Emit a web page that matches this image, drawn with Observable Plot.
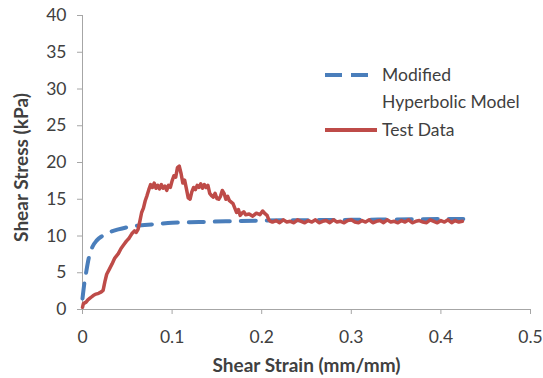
<!DOCTYPE html>
<html>
<head>
<meta charset="utf-8">
<script src="https://cdn.jsdelivr.net/npm/d3@7"></script>
<script src="https://cdn.jsdelivr.net/npm/@observablehq/plot@0.6"></script>
<style>
  html, body { margin: 0; padding: 0; background: #fff; }
  #chart { position: relative; width: 543px; height: 378px; font-family: Lato, "Open Sans", sans-serif; }
  #legend { position: absolute; left: 0; top: 0; }
</style>
</head>
<body>
<div id="chart"></div>
<script>
const xTicks = [0, 0.1, 0.2, 0.3, 0.4, 0.5];
const yTicks = [0, 5, 10, 15, 20, 25, 30, 35, 40];
const xTitle = "Shear Strain (mm/mm)";
const yTitle = "Shear Stress (kPa)";
const seriesNames = ["Modified", "Hyperbolic Model", "Test Data"];

const modelStrain = [0, 0.002, 0.004, 0.007, 0.011, 0.016, 0.022, 0.030, 0.040, 0.050, 0.060, 0.080, 0.100, 0.130, 0.160, 0.200, 0.250, 0.300, 0.350, 0.400, 0.425];
const modelStress = [1.5, 3.5, 5.0, 7.0, 8.5, 9.4, 10.0, 10.5, 10.9, 11.2, 11.4, 11.6, 11.8, 11.9, 12.0, 12.1, 12.15, 12.2, 12.25, 12.3, 12.3];

const testStrain = [
  0, 0.001, 0.004, 0.006, 0.008, 0.010, 0.012, 0.015, 0.018, 0.021,
  0.023, 0.025, 0.027, 0.030, 0.033, 0.036, 0.040, 0.043, 0.046, 0.049,
  0.052, 0.055, 0.058, 0.060, 0.062, 0.064, 0.066, 0.068, 0.070, 0.072,
  0.074, 0.076, 0.078, 0.080, 0.082, 0.084, 0.086, 0.088, 0.090, 0.092,
  0.094, 0.096, 0.098, 0.100, 0.102, 0.104, 0.106, 0.108, 0.110, 0.112,
  0.114, 0.116, 0.118, 0.120, 0.122, 0.124, 0.126, 0.128, 0.130, 0.132,
  0.134, 0.136, 0.138, 0.140, 0.142, 0.144, 0.146, 0.148, 0.150, 0.152,
  0.154, 0.156, 0.158, 0.160, 0.162, 0.164, 0.166, 0.168, 0.170, 0.172,
  0.174, 0.176, 0.178, 0.180, 0.182, 0.186, 0.190, 0.194, 0.198, 0.201,
  0.204, 0.206, 0.208, 0.210,
  0.212, 0.216, 0.220, 0.224, 0.228, 0.232, 0.236, 0.240, 0.244, 0.248,
  0.252, 0.256, 0.260, 0.264, 0.268, 0.272, 0.276, 0.280, 0.284, 0.288,
  0.292, 0.296, 0.300, 0.304, 0.308, 0.312, 0.316, 0.320, 0.324, 0.328,
  0.332, 0.336, 0.340, 0.344, 0.348, 0.352, 0.356, 0.360, 0.364, 0.368,
  0.372, 0.376, 0.380, 0.384, 0.388, 0.392, 0.396, 0.400, 0.404, 0.408,
  0.412, 0.416, 0.420, 0.424
];
const testStress = [
  0.3, 0.8, 1.0, 1.3, 1.5, 1.7, 1.9, 2.1, 2.2, 2.4,
  2.6, 3.8, 4.8, 5.5, 6.2, 7.0, 7.6, 8.3, 8.8, 9.3,
  9.7, 10.3, 10.7, 10.5, 10.9, 12.0, 13.2, 13.8, 14.8, 15.5,
  16.3, 17.0, 16.6, 17.2, 16.5, 16.9, 16.4, 17.0, 16.5, 16.8,
  16.2, 16.9, 16.6, 17.5, 18.2, 18.0, 19.3, 19.5, 18.5, 17.2,
  17.6, 16.4, 15.2, 15.0, 16.0, 16.6, 16.3, 16.9, 16.6, 17.1,
  16.5, 17.0, 16.6, 16.9, 15.8, 15.5, 15.3, 15.8, 15.1, 15.0,
  15.4, 16.2, 15.8, 15.0, 15.4, 14.8, 14.6, 14.4, 13.8, 13.2,
  13.6, 12.8, 13.1, 13.3, 12.9, 13.0, 12.7, 13.1, 12.9, 13.4,
  13.0, 12.8, 12.2, 12.0,
  11.9, 12.1, 11.8, 12.2, 11.9, 12.0, 11.8, 12.2, 12.0, 11.8,
  12.1, 11.9, 12.2, 11.8, 12.0, 12.1, 11.8, 12.2, 11.9, 12.0,
  11.8, 12.1, 12.2, 11.9, 11.8, 12.1, 11.9, 12.2, 11.8, 12.0,
  12.1, 11.8, 12.2, 11.9, 12.0, 11.8, 12.1, 11.9, 12.2, 11.8,
  12.0, 12.1, 11.9, 11.8, 12.2, 12.0, 11.8, 12.1, 11.9, 12.2,
  11.8, 12.1, 11.9, 12.0
];

const blue = "#4a7ebb";
const red = "#be4b48";
const axisGray = "#a6a6a6";
const textColor = "#404040";

const model = modelStrain.map((x, i) => ({x, y: modelStress[i]}));
const test = testStrain.map((x, i) => ({x, y: testStress[i]}));

const chart = Plot.plot({
  width: 543,
  height: 378,
  marginLeft: 82,
  marginRight: 13,
  marginTop: 15,
  marginBottom: 69,
  style: {fontFamily: "Lato, 'Open Sans', sans-serif", fontSize: "17.5px", color: textColor, background: "#fff"},
  x: {domain: [0, 0.5]},
  y: {domain: [0, 40]},
  marks: [
    Plot.axisY({ticks: yTicks, tickSize: 5, tickPadding: 11, stroke: axisGray, fill: textColor, fontSize: 17.5, label: null}),
    Plot.axisX({ticks: xTicks, tickSize: 5, tickPadding: 16, stroke: axisGray, fill: textColor, fontSize: 17.5, label: null, tickFormat: d => String(d)}),
    Plot.ruleX([0], {stroke: axisGray, strokeWidth: 1}),
    Plot.ruleY([0], {stroke: axisGray, strokeWidth: 1}),
    Plot.line(model, {x: "x", y: "y", stroke: blue, strokeWidth: 4, strokeDasharray: "15,11", curve: "monotone-x"}),
    Plot.line(test, {x: "x", y: "y", stroke: red, strokeWidth: 3.5, strokeLinejoin: "round"}),
    Plot.text([xTitle], {frameAnchor: "bottom", dy: 56, textAnchor: "middle", lineAnchor: "middle", fontWeight: "bold", fontSize: 19, fill: textColor}),
    Plot.text([yTitle], {frameAnchor: "left", dx: -61, dy: 5, rotate: -90, textAnchor: "middle", lineAnchor: "middle", fontWeight: "bold", fontSize: 19, fill: textColor})
  ]
});
document.getElementById("chart").appendChild(chart);

// legend overlay
const leg = d3.select("#chart").append("svg")
  .attr("id", "legend").attr("width", 543).attr("height", 378)
  .style("font-family", "Lato, 'Open Sans', sans-serif").style("font-size", "17.5px");
leg.append("line").attr("x1", 325).attr("x2", 368).attr("y1", 75).attr("y2", 75)
  .attr("stroke", blue).attr("stroke-width", 4).attr("stroke-dasharray", "17,9");
leg.append("line").attr("x1", 325).attr("x2", 377).attr("y1", 130).attr("y2", 130)
  .attr("stroke", red).attr("stroke-width", 4);
leg.append("text").attr("x", 382).attr("y", 75).attr("dy", "0.35em").attr("fill", textColor).text(seriesNames[0]);
leg.append("text").attr("x", 382).attr("y", 102).attr("dy", "0.35em").attr("fill", textColor).text(seriesNames[1]);
leg.append("text").attr("x", 382).attr("y", 130).attr("dy", "0.35em").attr("fill", textColor).text(seriesNames[2]);
</script>
</body>
</html>
